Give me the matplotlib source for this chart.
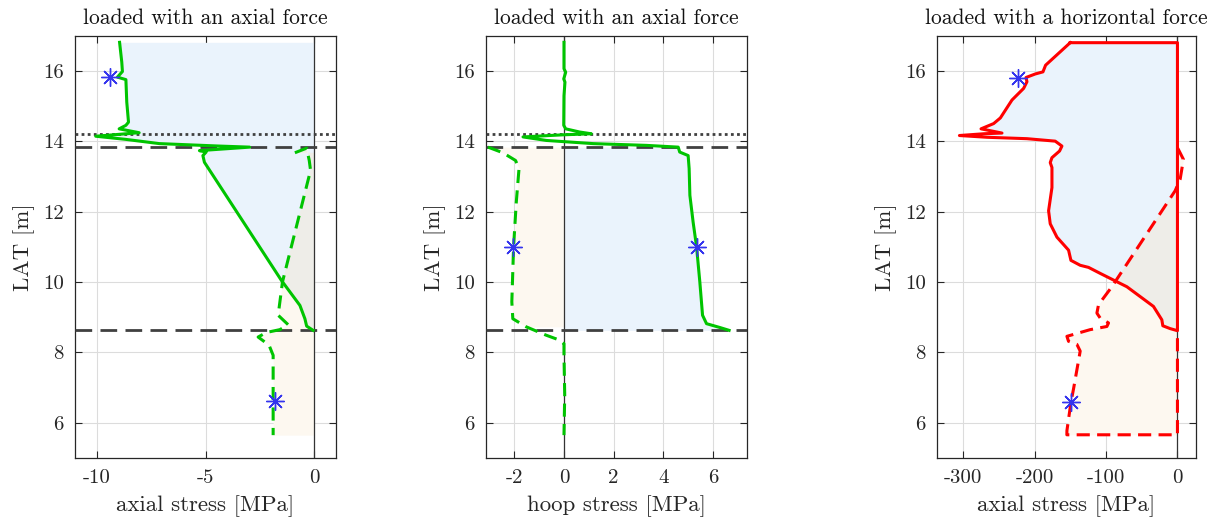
import matplotlib
matplotlib.use("Agg")
import matplotlib.pyplot as plt
from matplotlib.path import Path
import numpy as np

plt.rcParams['font.family'] = ['cmr10', 'DejaVu Serif']
plt.rcParams['axes.unicode_minus'] = False
plt.rcParams['axes.formatter.use_mathtext'] = False

# ---------------- data ----------------
titles = ["loaded with an axial force", "loaded with an axial force",
          "loaded with a horizontal force"]
xlabels = ["axial stress [MPa]", "hoop stress [MPa]", "axial stress [MPa]"]
ylabel = "LAT [m]"
yticks = [6, 8, 10, 12, 14, 16]
xticks1 = [-10, -5, 0]
xticks2 = [-2, 0, 2, 4, 6]
xticks3 = [-300, -200, -100, 0]

level_dotted = 14.2
level_dashed_top = 13.84
level_dashed_bot = 8.63

# panel 1 (axial stress, axial force)
p1_solid_x = [-8.95, -8.85, -8.82, -9.05, -8.66, -8.62, -8.54, -8.66, -8.97, -8.05,
              -10.05, -8.66, -7.12, -4.35, -2.97, -5.28, -4.97, -5.12, -5.05,
              -1.51, -0.66, -0.43, -0.35, -0.05]
p1_solid_y = [16.82, 16.26, 15.99, 15.83, 15.76, 15.12, 14.55, 14.46, 14.36, 14.25,
              14.15, 14.06, 13.94, 13.87, 13.84, 13.74, 13.70, 13.60, 13.41,
              10.05, 9.34, 8.96, 8.75, 8.63]
p1_dash_x = [-0.89, -0.35, -0.23, -0.17, -1.46, -1.66, -1.20, -1.58, -2.20, -2.58,
             -2.08, -1.89, -1.89]
p1_dash_y = [13.68, 13.81, 13.46, 13.18, 10.01, 9.06, 8.79, 8.65, 8.57, 8.44,
             8.21, 7.92, 5.65]
p1_star_x = [-9.4, -1.82]
p1_star_y = [15.83, 6.62]

# panel 2 (hoop stress, axial force)
p2_solid_x = [0.0, 0.0, 0.07, -0.01, 0.04, 0.0, -0.01, 0.07, 0.63, 1.10, -0.04,
              -1.65, -0.71, 1.17, 3.32, 4.60, 4.66, 5.00, 5.04, 5.07, 5.20, 5.34,
              5.47, 5.58, 5.74, 6.28, 6.65]
p2_solid_y = [16.82, 16.07, 15.97, 15.78, 15.69, 15.30, 14.46, 14.36, 14.27, 14.22,
              14.19, 14.13, 14.03, 13.94, 13.89, 13.84, 13.70, 13.60, 13.23, 12.47,
              11.71, 11.00, 10.01, 9.06, 8.82, 8.71, 8.63]
p2_dash_x = [-3.06, -2.46, -1.95, -1.81, -1.92, -2.03, -2.10, -2.06, -1.52, -0.71,
             -0.17, 0.0, 0.0, 0.03, 0.0]
p2_dash_y = [13.84, 13.68, 13.46, 13.23, 12.28, 11.00, 9.44, 8.96, 8.73, 8.49,
             8.35, 8.25, 7.92, 6.79, 5.65]
p2_star_x = [-2.06, 5.34]
p2_star_y = [11.0, 11.0]

# panel 3 (axial stress, horizontal force)
p3_solid_x = [-150.3, -184.8, -188.5, -199.3, -212.3, -210.9, -215.6, -231.9, -248.2,
              -257.6, -275.3, -245.9, -271.6, -305.6, -266.9, -210.9, -171.3, -161.9,
              -165.2, -175.9, -178.3, -175.9, -175.9, -180.6, -178.3, -168.9, -152.6,
              -149.3, -136.3, -124.6, -108.3, -70.9, -33.6, -21.9, -20.5, -10.3, 0.0]
p3_solid_y = [16.81, 16.17, 15.98, 15.92, 15.82, 15.70, 15.51, 15.18, 14.67,
              14.51, 14.36, 14.24, 14.22, 14.17, 14.12, 14.08, 14.01, 13.87,
              13.73, 13.54, 13.40, 13.26, 12.69, 12.03, 11.66, 11.28, 10.91,
              10.62, 10.48, 10.42, 10.25, 9.87, 9.31, 8.93, 8.76, 8.68, 8.62]
p3_dash_x = [0.0, 1.4, 8.4, 3.8, -3.2, -91.9, -110.6, -112.9, -108.3, -96.6, -98.9,
             -122.3, -154.9, -152.7, -140.9, -136.3, -145.7, -149.3, -154.9, -155.0]
p3_dash_y = [13.82, 13.77, 13.49, 12.93, 12.60, 9.87, 9.36, 9.12, 8.98, 8.84, 8.74,
             8.65, 8.46, 8.32, 8.23, 8.04, 6.96, 6.58, 5.78, 5.66]
p3_star_x = [-224.0, -149.3]
p3_star_y = [15.81, 6.59]

# ---------------- style ----------------
GREEN = '#00c400'
RED = '#ff0000'
STAR = '#3434ee'
GRAYL = '#404040'
BLUE_F = '#eaf3fc'
BEIGE_F = '#fdf8f0'
BOTH_F = '#eeede8'
ASTER = (8, 2, 0)

W, H = 1220, 524
fig = plt.figure(figsize=(W / 100, H / 100), dpi=100)

def ax_at(l, r, t, b):
    return fig.add_axes([l / W, 1 - b / H, (r - l) / W, (b - t) / H])

ax1 = ax_at(75, 336, 36, 458)
ax2 = ax_at(486, 747, 36, 458)
ax3 = ax_at(937, 1196, 36, 458)

def style(ax, xlim, xticks, title, xlabel):
    ax.set_xlim(*xlim)
    ax.set_ylim(5, 17)
    ax.set_xticks(xticks)
    ax.set_yticks(yticks)
    ax.set_xticklabels([str(v) for v in xticks])
    ax.set_yticklabels([str(v) for v in yticks])
    ax.grid(True, color='#dcdcdc', lw=0.8)
    ax.set_axisbelow(True)
    ax.tick_params(direction='in', length=5, width=0.8, colors='#262626',
                   top=True, right=True, labelsize=15, pad=8)
    for s in ax.spines.values():
        s.set_color('#262626')
        s.set_linewidth(0.9)
    ax.set_title(title, fontsize=15.5, pad=9, color='#111111')
    ax.set_xlabel(xlabel, fontsize=16.5, labelpad=6, color='#262626')
    ax.set_ylabel(ylabel, fontsize=16.5, labelpad=6, color='#262626')

def fills(ax, sx, sy, dx, dy, srange=None, drange=None):
    sx, sy, dx, dy = map(np.asarray, (sx, sy, dx, dy))
    ws = None if srange is None else (sy >= srange[0]) & (sy <= srange[1])
    wd = None if drange is None else (dy >= drange[0]) & (dy <= drange[1])
    pb = ax.fill_betweenx(sy, sx, 0, where=ws, color=BLUE_F, lw=0, zorder=1)
    po = ax.fill_betweenx(dy, dx, 0, where=wd, color=BEIGE_F, lw=0, zorder=1.1)
    pg = ax.fill_betweenx(sy, sx, 0, where=ws, color=BOTH_F, lw=0, zorder=1.2)
    clip = Path.make_compound_path(*po.get_paths())
    pg.set_clip_path(clip, transform=ax.transData)

def levels(ax):
    ax.axhline(level_dotted, color=GRAYL, lw=2.0, ls=(0, (1, 1.2)), zorder=3)
    ax.axhline(level_dashed_top, color=GRAYL, lw=2.0, ls=(0, (6, 3)), zorder=3)
    ax.axhline(level_dashed_bot, color=GRAYL, lw=2.0, ls=(0, (6, 3)), zorder=3)

def stars(ax, x, y):
    ax.plot(x, y, ls='none', marker=ASTER, ms=13, color=STAR, mew=1.0, zorder=5)

DASH = (0, (4.3, 2.4))

# panel 1
style(ax1, (-11, 1), xticks1, titles[0], xlabels[0])
fills(ax1, p1_solid_x, p1_solid_y, p1_dash_x, p1_dash_y)
ax1.axvline(0, color='#333333', lw=0.9, zorder=2)
levels(ax1)
ax1.plot(p1_solid_x, p1_solid_y, color=GREEN, lw=2.2, zorder=4)
ax1.plot(p1_dash_x, p1_dash_y, color=GREEN, lw=2.2, ls=DASH, zorder=4)
stars(ax1, p1_star_x, p1_star_y)

# panel 2
style(ax2, (-3.14, 7.37), xticks2, titles[1], xlabels[1])
fills(ax2, p2_solid_x, p2_solid_y, p2_dash_x, p2_dash_y,
      srange=(level_dashed_bot, level_dashed_top),
      drange=(level_dashed_bot, level_dashed_top))
ax2.axvline(0, color='#333333', lw=0.9, zorder=2)
levels(ax2)
ax2.plot(p2_solid_x, p2_solid_y, color=GREEN, lw=2.2, zorder=4)
ax2.plot(p2_dash_x, p2_dash_y, color=GREEN, lw=2.2, ls=DASH, zorder=4)
stars(ax2, p2_star_x, p2_star_y)

# panel 3
style(ax3, (-337, 26), xticks3, titles[2], xlabels[2])
fills(ax3, p3_solid_x, p3_solid_y, p3_dash_x, p3_dash_y)
ax3.axvline(0, color='#333333', lw=0.9, zorder=2)
sx = list(p3_solid_x) + [0.0, p3_solid_x[0]]
sy = list(p3_solid_y) + [p3_solid_y[0], p3_solid_y[0]]
dxp = list(p3_dash_x) + [0.0, 0.0]
dyp = list(p3_dash_y) + [p3_dash_y[-1], p3_solid_y[-1]]
ax3.plot(dxp, dyp, color=RED, lw=2.2, ls=DASH, zorder=4)
ax3.plot(sx, sy, color=RED, lw=2.2, zorder=4)
stars(ax3, p3_star_x, p3_star_y)

fig.savefig("out.png", dpi=100)
